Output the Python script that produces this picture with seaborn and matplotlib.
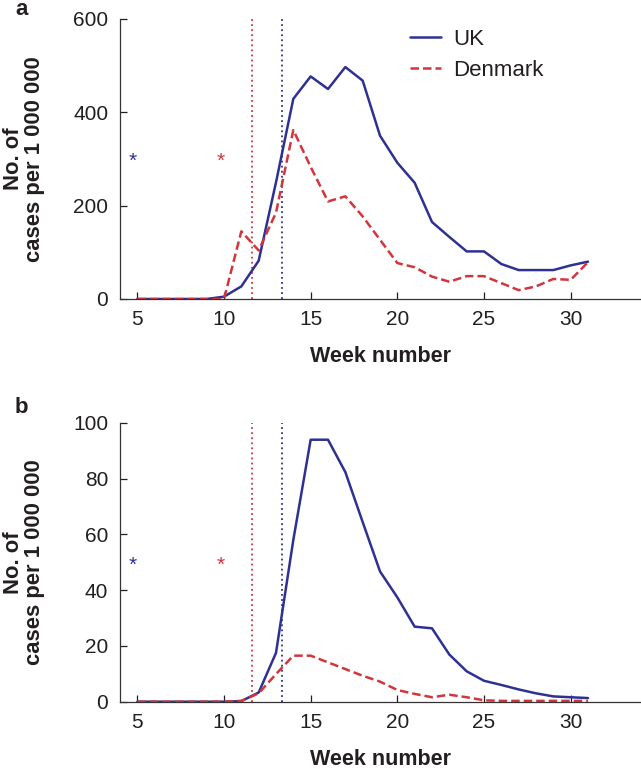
import matplotlib
matplotlib.use('Agg')
import matplotlib.pyplot as plt
import seaborn as sns
import numpy as np
import pandas as pd

# week numbers shared by both panels
weeks = list(range(5, 32))

# panel a - cases per 1 000 000
uk_a = [0, 0, 0, 0, 0, 5, 27, 82, 250, 429, 477, 450, 497, 468, 350, 292,
        249, 165, 133, 102, 102, 75, 62, 62, 62, 72, 80]
dk_a = [0, 0, 0, 0, 0, 0, 145, 104, 185, 362, 283, 209, 220, 177, 127, 77,
        68, 48, 37, 49, 49, 34, 19, 27, 43, 41, 79]

# panel b - cases per 1 000 000
uk_b = [0, 0, 0, 0, 0, 0, 0.2, 3.3, 17.5, 58, 93.9, 93.9, 82.3, 64.4, 46.7,
        37.4, 26.9, 26.3, 16.9, 10.9, 7.5, 6.0, 4.4, 3.0, 1.9, 1.6, 1.3]
dk_b = [0, 0, 0, 0, 0, 0, 0.3, 3.0, 9.9, 16.5, 16.5, 14.1, 11.7, 9.3, 7.2,
        4.2, 2.8, 1.6, 2.5, 1.6, 0.5, 0.3, 0.3, 0.3, 0.3, 0.3, 0.3]

countries = ['UK', 'Denmark']
# week markers (dotted lines) and asterisks
vline_weeks = {'Denmark': 11.59, 'UK': 13.37}
star_weeks = {'UK': 4.72, 'Denmark': 9.81}
star_y = [296, 49]

yticks_a = [0, 200, 400, 600]
yticks_b = [0, 20, 40, 60, 80, 100]
xticks = [5, 10, 15, 20, 25, 30]

BLUE = '#2e3192'
RED = '#d3353c'
TXT = '#231f20'
palette = {'UK': BLUE, 'Denmark': RED}

sns.set_theme(style='white')
plt.rcParams['font.family'] = ['Liberation Sans', 'DejaVu Sans']
plt.rcParams['text.color'] = TXT
plt.rcParams['axes.labelcolor'] = TXT
plt.rcParams['xtick.color'] = TXT
plt.rcParams['ytick.color'] = TXT

W, H = 641, 769


def make_df(uk, dk):
    return pd.DataFrame({
        'week': weeks * 2,
        'cases': uk + dk,
        'country': ['UK'] * len(weeks) + ['Denmark'] * len(weeks),
    })


def draw_panel(ax, df, ylim, yticks, star_val, show_legend):
    sns.lineplot(data=df, x='week', y='cases', hue='country', style='country',
                 hue_order=countries, style_order=countries,
                 palette=palette, dashes={'UK': '', 'Denmark': (3.4, 1.6)},
                 linewidth=1.8, ax=ax, legend=show_legend)

    # dotted week lines
    for c in ['Denmark', 'UK']:
        ax.axvline(vline_weeks[c], color=palette[c], linestyle=(0, (1, 1.8)),
                   linewidth=1.3, zorder=1)

    # asterisks
    for c in countries:
        ax.text(star_weeks[c], star_val, '*', color=palette[c], fontsize=15,
                ha='center', va='center')

    ax.set_xlim(4, 34)
    ax.set_ylim(*ylim)
    ax.set_xticks(xticks)
    ax.set_yticks(yticks)
    ax.tick_params(direction='in', length=5, width=0.9, labelsize=15,
                   bottom=True, left=True)
    ax.tick_params(axis='x', pad=8)
    ax.tick_params(axis='y', pad=8.5)
    ax.set_xlabel('Week number', fontsize=15.5, fontweight='bold')
    ax.xaxis.set_label_coords(0.5, -58 / 280)
    ax.xaxis.label.set_va('center')
    ax.set_ylabel('No. of\ncases per 1 000 000', fontsize=15.8,
                  fontweight='bold', linespacing=1.05)
    ax.yaxis.set_label_coords((24 - 120) / 520, 0.5)
    ax.yaxis.label.set_va('center')
    sns.despine(ax=ax)
    for side in ['left', 'bottom']:
        ax.spines[side].set_color('#333333')
        ax.spines[side].set_linewidth(0.9)

    if show_legend:
        leg = ax.legend(loc='upper left',
                        bbox_to_anchor=(410 / W, 1 - 29 / H),
                        bbox_transform=ax.figure.transFigure,
                        frameon=False, fontsize=16, handlelength=1.4,
                        labelspacing=0.45, handletextpad=0.55,
                        borderpad=0, borderaxespad=0)
        for line in leg.get_lines():
            line.set_linewidth(1.8)


fig = plt.figure(figsize=(W / 100, H / 100), dpi=100)
ax_a = fig.add_axes([120 / W, 1 - 299 / H, 520 / W, 280 / H])
ax_b = fig.add_axes([120 / W, 1 - 701.7 / H, 520 / W, 279 / H])

draw_panel(ax_a, make_df(uk_a, dk_a), (0, 600), yticks_a, star_y[0], True)
draw_panel(ax_b, make_df(uk_b, dk_b), (0, 100), yticks_b, star_y[1], False)

# panel letters
fig.text(15 / W, 1 - 15 / H, 'a', fontsize=16, fontweight='bold', va='baseline')
fig.text(15 / W, 1 - 413 / H, 'b', fontsize=16, fontweight='bold', va='baseline')

fig.savefig('out.png', dpi=100)
plt.close(fig)
